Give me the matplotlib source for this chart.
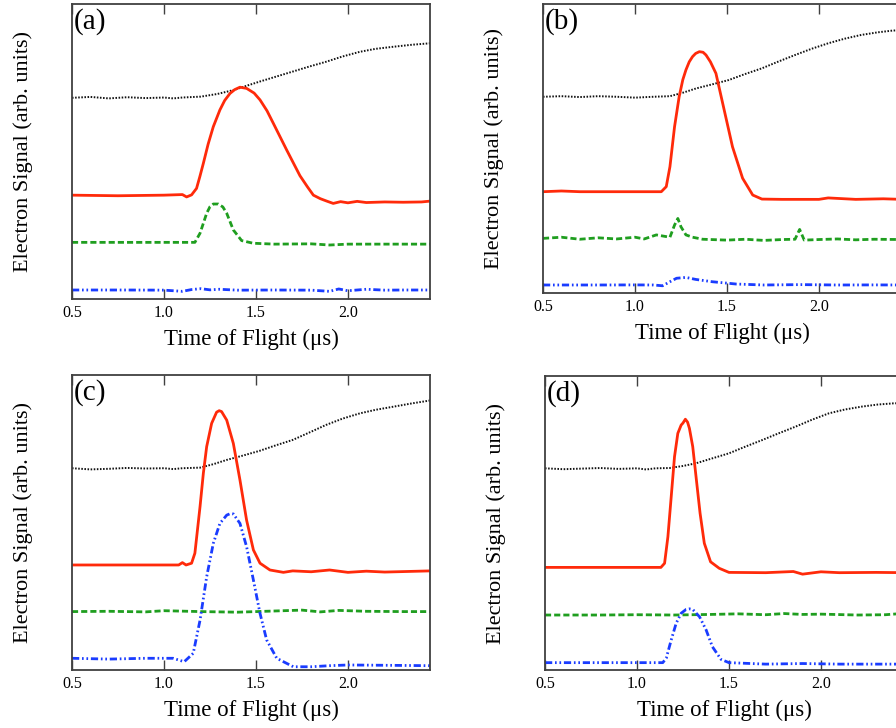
import matplotlib
matplotlib.use("Agg")
import matplotlib.pyplot as plt

plt.rcParams['font.family'] = ['Liberation Serif', 'DejaVu Serif']

# ---------------- data (arb. units, 0..100 vertical scale) ----------------
# Panel (a)
a_black_x = [0.5, 0.6, 0.7, 0.8, 0.9, 1.0, 1.05, 1.1, 1.2, 1.29, 1.377, 1.45, 1.52, 1.61, 1.70, 1.79, 1.88, 1.97, 2.065, 2.15, 2.246, 2.35, 2.45]
a_black_y = [68.2, 68.5, 68.0, 68.4, 68.1, 68.3, 68.0, 68.3, 68.6, 69.5, 70.8, 72.3, 73.7, 75.4, 77.1, 78.8, 80.4, 82.2, 83.8, 84.8, 85.5, 86.2, 86.7]
a_red_x = [0.5, 0.75, 1.0, 1.10, 1.123, 1.15, 1.177, 1.195, 1.214, 1.24, 1.268, 1.304, 1.33, 1.359, 1.385, 1.413, 1.449, 1.49, 1.522, 1.56, 1.594, 1.667, 1.739, 1.78, 1.812, 1.85, 1.884, 1.92, 1.96, 2.0, 2.05, 2.1, 2.2, 2.3, 2.4, 2.45]
a_red_y = [35.2, 35.0, 35.2, 35.4, 34.6, 35.3, 37.5, 41.5, 46.0, 52.5, 58.4, 64.1, 67.3, 69.7, 71.0, 71.8, 71.4, 69.8, 67.5, 63.8, 59.6, 50.5, 41.8, 38.0, 35.2, 34.0, 33.2, 32.4, 33.0, 32.6, 33.1, 32.7, 32.9, 32.8, 32.9, 33.2]
a_green_x = [0.5, 0.9, 1.168, 1.196, 1.232, 1.25, 1.268, 1.295, 1.32, 1.341, 1.377, 1.422, 1.485, 1.6, 1.8, 1.9, 2.0, 2.2, 2.45]
a_green_y = [19.2, 19.2, 19.2, 22.3, 29.05, 31.3, 32.2, 32.2, 31.2, 29.05, 23.4, 19.8, 18.9, 18.6, 18.7, 18.3, 18.6, 18.6, 18.6]
a_blue_x = [0.5, 0.8, 1.0, 1.1, 1.15, 1.2, 1.25, 1.3, 1.4, 1.6, 1.8, 1.9, 1.95, 2.0, 2.1, 2.2, 2.3, 2.45]
a_blue_y = [3.05, 3.05, 3.0, 2.6, 3.2, 3.5, 3.1, 3.3, 3.0, 3.05, 3.0, 2.6, 3.4, 2.8, 3.3, 3.0, 3.05, 3.05]

# Panel (b)
b_black_x = [0.5, 0.6, 0.7, 0.8, 0.9, 1.0, 1.1, 1.19, 1.26, 1.333, 1.42, 1.51, 1.60, 1.69, 1.78, 1.87, 1.96, 2.05, 2.14, 2.23, 2.32, 2.40, 2.46]
b_black_y = [67.9, 68.1, 67.8, 68.1, 67.9, 67.6, 67.9, 68.1, 69.3, 70.8, 72.2, 73.7, 75.8, 77.75, 80.1, 82.35, 84.5, 86.4, 88.0, 89.3, 90.2, 90.8, 91.0]
b_red_x = [0.5, 0.6, 0.7, 1.0, 1.143, 1.17, 1.19, 1.215, 1.24, 1.26, 1.277, 1.295, 1.313, 1.33, 1.35, 1.37, 1.386, 1.41, 1.44, 1.485, 1.53, 1.585, 1.64, 1.69, 1.8, 2.0, 2.05, 2.2, 2.35, 2.45]
b_red_y = [35.05, 35.3, 35.05, 35.05, 35.05, 36.8, 43.7, 57.5, 67.9, 73.8, 77.2, 80.0, 81.8, 82.9, 83.5, 83.3, 82.35, 80.0, 76.0, 63.3, 50.6, 39.7, 33.9, 32.5, 32.4, 32.4, 32.9, 32.4, 32.6, 32.4]
b_green_x = [0.5, 0.6, 0.7, 0.8, 0.9, 1.0, 1.05, 1.116, 1.19, 1.215, 1.233, 1.25, 1.277, 1.313, 1.368, 1.5, 1.6, 1.7, 1.8, 1.87, 1.895, 1.92, 2.0, 2.1, 2.2, 2.3, 2.45]
b_green_y = [18.9, 19.3, 18.6, 19.1, 18.7, 19.3, 18.7, 20.1, 19.3, 23.5, 25.8, 22.9, 20.1, 19.3, 18.6, 18.3, 18.6, 18.2, 18.5, 18.6, 22.0, 18.3, 18.5, 18.7, 18.4, 18.6, 18.5]
b_blue_x = [0.5, 0.8, 1.0, 1.1, 1.15, 1.19, 1.226, 1.277, 1.33, 1.42, 1.55, 1.7, 1.9, 2.1, 2.3, 2.45]
b_blue_y = [2.77, 2.77, 2.8, 2.77, 2.5, 3.9, 5.1, 5.4, 4.7, 3.9, 3.1, 2.77, 2.9, 2.77, 2.8, 2.77]

# Panel (c)
c_black_x = [0.5, 0.6, 0.7, 0.8, 0.9, 1.0, 1.05, 1.1, 1.196, 1.27, 1.34, 1.43, 1.52, 1.61, 1.70, 1.79, 1.88, 1.97, 2.065, 2.15, 2.246, 2.35, 2.45]
c_black_y = [68.4, 68.0, 68.2, 68.5, 68.3, 68.4, 68.1, 68.4, 68.6, 69.8, 71.2, 72.7, 74.3, 76.2, 78.0, 80.5, 83.05, 85.2, 87.0, 88.2, 89.25, 90.4, 91.4]
c_red_x = [0.5, 0.8, 1.08, 1.10, 1.12, 1.15, 1.168, 1.196, 1.214, 1.232, 1.259, 1.286, 1.30, 1.313, 1.341, 1.377, 1.413, 1.449, 1.486, 1.522, 1.576, 1.649, 1.7, 1.8, 1.9, 2.0, 2.1, 2.2, 2.45]
c_red_y = [35.6, 35.6, 35.6, 36.4, 35.6, 36.2, 39.6, 55.4, 66.7, 75.7, 83.6, 87.4, 87.9, 87.6, 84.7, 76.8, 64.4, 50.8, 40.7, 36.2, 33.9, 33.1, 33.6, 33.3, 33.9, 33.1, 33.5, 33.2, 33.6]
c_green_x = [0.5, 0.7, 0.9, 1.0, 1.2, 1.4, 1.6, 1.75, 1.85, 1.95, 2.1, 2.3, 2.45]
c_green_y = [19.8, 19.9, 19.7, 20.1, 19.8, 19.6, 20.0, 20.3, 19.7, 20.2, 19.9, 19.8, 19.8]
c_blue_x = [0.5, 0.7, 0.9, 1.05, 1.11, 1.159, 1.196, 1.232, 1.268, 1.304, 1.341, 1.36, 1.377, 1.413, 1.449, 1.486, 1.522, 1.558, 1.613, 1.703, 1.8, 1.9, 2.0, 2.2, 2.45]
c_blue_y = [3.97, 3.7, 3.97, 3.97, 2.8, 5.66, 16.9, 31.6, 42.9, 49.7, 52.5, 53.0, 52.9, 49.7, 41.8, 30.5, 19.2, 10.2, 3.97, 1.1, 1.1, 1.46, 1.7, 1.6, 1.46]

# Panel (d)
d_black_x = [0.5, 0.6, 0.7, 0.8, 0.9, 1.0, 1.05, 1.1, 1.177, 1.25, 1.32, 1.41, 1.50, 1.59, 1.68, 1.77, 1.863, 1.95, 2.043, 2.13, 2.223, 2.31, 2.395, 2.46]
d_black_y = [68.6, 68.3, 68.5, 68.7, 68.4, 68.6, 68.2, 68.6, 68.7, 69.4, 70.3, 72.0, 73.7, 76.0, 78.2, 80.5, 82.8, 85.1, 87.3, 88.6, 89.6, 90.3, 90.7, 90.8]
d_red_x = [0.5, 0.7, 0.9, 1.1, 1.13, 1.15, 1.168, 1.186, 1.204, 1.222, 1.24, 1.25, 1.263, 1.275, 1.285, 1.303, 1.321, 1.343, 1.366, 1.40, 1.447, 1.50, 1.7, 1.85, 1.9, 2.0, 2.1, 2.3, 2.46]
d_red_y = [34.9, 34.9, 34.9, 34.9, 34.9, 36.3, 45.3, 58.9, 72.55, 80.5, 83.3, 84.0, 85.3, 84.3, 82.2, 76.0, 65.75, 53.3, 43.1, 36.8, 34.6, 33.2, 33.1, 33.5, 32.6, 33.4, 33.1, 33.2, 33.1]
d_green_x = [0.5, 0.8, 1.0, 1.2, 1.4, 1.55, 1.7, 1.8, 1.9, 2.0, 2.2, 2.35, 2.46]
d_green_y = [18.7, 18.7, 18.8, 18.7, 18.9, 19.1, 18.8, 19.2, 18.9, 19.0, 18.7, 18.8, 19.3]
d_blue_x = [0.5, 0.8, 1.0, 1.14, 1.159, 1.186, 1.213, 1.24, 1.267, 1.285, 1.303, 1.34, 1.376, 1.41, 1.457, 1.50, 1.7, 1.9, 2.1, 2.3, 2.46]
d_blue_y = [2.5, 2.5, 2.5, 2.5, 4.0, 10.2, 15.9, 19.3, 20.6, 20.8, 20.6, 18.1, 13.6, 7.9, 3.6, 2.5, 2.0, 2.2, 2.0, 2.0, 2.0]

panel_labels = ['(a)', '(b)', '(c)', '(d)']
x_ticks = [0.5, 1.0, 1.5, 2.0]
x_tick_labels = ['0.5', '1.0', '1.5', '2.0']
x_label = 'Time of Flight (\u03bcs)'
y_label = 'Electron Signal (arb. units)'

# ---------------- styles ----------------
RED = '#ff2a0a'
GREEN = '#1f9e1f'
BLUE = '#1a3cff'
BLACK = '#111111'
SPINE = '#404040'

W, H = 896, 728
fig = plt.figure(figsize=(W / 100, H / 100), dpi=100)

# axes boxes in pixels: left, top, width, height
boxes = [(72, 4, 358, 295), (543, 4, 358, 289), (72, 375, 358, 295), (545, 376, 358, 294)]
traces = [
    (a_black_x, a_black_y, a_red_x, a_red_y, a_green_x, a_green_y, a_blue_x, a_blue_y),
    (b_black_x, b_black_y, b_red_x, b_red_y, b_green_x, b_green_y, b_blue_x, b_blue_y),
    (c_black_x, c_black_y, c_red_x, c_red_y, c_green_x, c_green_y, c_blue_x, c_blue_y),
    (d_black_x, d_black_y, d_red_x, d_red_y, d_green_x, d_green_y, d_blue_x, d_blue_y),
]

for (l, t, w, h), tr, lab in zip(boxes, traces, panel_labels):
    ax = fig.add_axes([l / W, (H - t - h) / H, w / W, h / H])
    bx, by, rx, ry, gx, gy, ux, uy = tr
    ax.plot(bx, by, color=BLACK, lw=1.4, linestyle=(0, (0.8, 0.8)))
    ax.plot(rx, ry, color=RED, lw=2.0, solid_joinstyle='round')
    ax.plot(gx, gy, color=GREEN, lw=2.0, dashes=(2.2, 1.1))
    ax.plot(ux, uy, color=BLUE, lw=2.0, dashes=(2.6, 1.0, 0.6, 1.0, 0.6, 1.0))
    ax.set_xlim(0.5, 2.446)
    ax.set_ylim(0, 100)
    ax.set_xticks(x_ticks)
    ax.set_xticklabels(x_tick_labels)
    ax.set_yticks([])
    ax.tick_params(axis='x', direction='in', top=True, bottom=True, length=7,
                   width=1.0, color=SPINE, labelsize=11.5, pad=4)
    for s in ax.spines.values():
        s.set_color(SPINE)
        s.set_linewidth(1.3)
    ax.set_xlabel(x_label, fontsize=16.5, labelpad=6)
    ax.set_ylabel(y_label, fontsize=16)
    ax.yaxis.set_label_coords(-0.108, 0.5)
    ax.text(0.004, 0.985, lab, transform=ax.transAxes, ha='left', va='top', fontsize=21)

fig.savefig('out.png', dpi=100)
